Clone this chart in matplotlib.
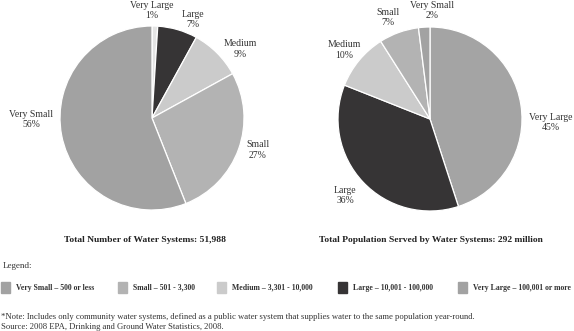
import numpy as np
import matplotlib
matplotlib.use("Agg")
import matplotlib.pyplot as plt

categories = ["Very Large", "Large", "Medium", "Small", "Very Small"]
systems_pct = [1, 7, 9, 27, 56]
population_pct = [45, 36, 10, 7, 2]
systems_colors = ["#e4e4e4", "#363435", "#cbcbcb", "#b3b3b3", "#a2a2a2"]
population_colors = ["#a4a4a4", "#363435", "#cbcbcb", "#b3b3b3", "#a2a2a2"]
left_title = "Total Number of Water Systems: 51,988"
right_title = "Total Population Served by Water Systems: 292 million"
legend_labels = ["Very Small \u2013 500 or less", "Small \u2013 501 - 3,300",
                 "Medium \u2013 3,301 - 10,000", "Large \u2013 10,001 - 100,000",
                 "Very Large \u2013 100,001 or more"]
legend_colors = ["#a2a2a2", "#b3b3b3", "#cbcbcb", "#363435", "#a2a2a2"]
note = ("*Note: Includes only community water systems, defined as a public water system "
        "that supplies water to the same population year-round.")
source = "Source: 2008 EPA, Drinking and Ground Water Statistics, 2008."

plt.rcParams['font.family'] = ['Liberation Serif', 'DejaVu Serif']
TXT = "#333333"

fig = plt.figure(figsize=(5.74, 3.31), dpi=100)
W, H = 574, 331

def make_pie(rect, values, colors, label_pos):
    ax = fig.add_axes(rect)
    ax.pie(values, colors=colors, startangle=90, counterclock=False,
           wedgeprops=dict(edgecolor="white", linewidth=0.9))
    ax.set_xlim(-1, 1)
    ax.set_ylim(-1, 1)
    ax.set_aspect("equal")
    ax.axis("off")
    for cat, v, (lx, ly) in zip(categories, values, label_pos):
        ax.text(lx, ly, f"{cat}\n{v}%", ha="center", va="center",
                fontsize=7, color=TXT, linespacing=1.2)
    return ax

make_pie([60 / W, (H - 210) / H, 184 / W, 184 / H], systems_pct, systems_colors,
         [(0.0, 1.17), (0.446, 1.07), (0.957, 0.75), (1.152, -0.348), (-1.315, -0.016)])
make_pie([338 / W, (H - 211) / H, 184 / W, 184 / H], population_pct, population_colors,
         [(1.315, -0.04), (-0.924, -0.83), (-0.935, 0.75), (-0.457, 1.103), (0.02, 1.18)])

fig.text(145 / W, 1 - 240 / H, left_title, ha="center", va="center", fontsize=6.8,
         fontweight="bold", color="#222222")
fig.text(431 / W, 1 - 240 / H, right_title, ha="center", va="center", fontsize=6.8,
         fontweight="bold", color="#222222")

fig.text(3 / W, 1 - 266 / H, "Legend:", ha="left", va="center", fontsize=6.5, color=TXT)
sq_x = [1, 118, 217, 338, 458]
for x, lab, c in zip(sq_x, legend_labels, legend_colors):
    fig.patches.append(plt.Rectangle((x / W, 1 - 293 / H), 9 / W, 11 / H, color=c,
                                     transform=fig.transFigure, figure=fig))
    fig.text((x + 15) / W, 1 - 287.5 / H, lab, ha="left", va="center", fontsize=5.6,
             fontweight="bold", color=TXT)

fig.text(1 / W, 1 - 317 / H, note, ha="left", va="center", fontsize=6.2, color=TXT)
fig.text(1 / W, 1 - 327 / H, source, ha="left", va="center", fontsize=6.2, color=TXT)

fig.savefig("out.png", dpi=100, facecolor="white")
